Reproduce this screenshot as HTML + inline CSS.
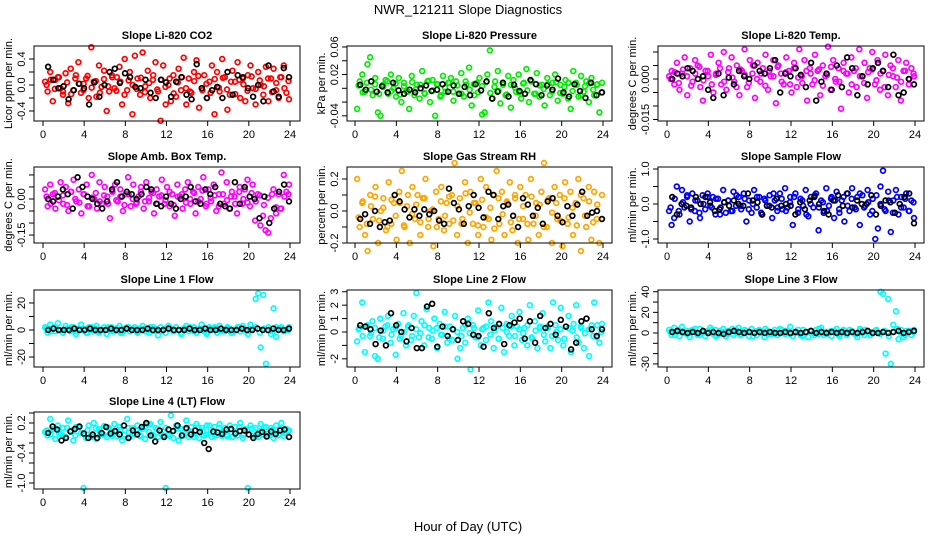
<!DOCTYPE html>
<html><head><meta charset="utf-8">
<style>
html,body{margin:0;padding:0;background:#fff;}
svg{display:block;font-family:"Liberation Sans",sans-serif;}
</style></head>
<body>
<svg id="chart" width="936" height="540" viewBox="0 0 936 540" xmlns="http://www.w3.org/2000/svg">
<rect x="0" y="0" width="936" height="540" fill="#fff"/>
<text x="468" y="14" text-anchor="middle" font-size="13">NWR_121211  Slope Diagnostics</text>
<text x="468" y="531" text-anchor="middle" font-size="13">Hour of Day (UTC)</text>
</svg>
<script>
// x tick values
const xTicks = [0,4,8,12,16,20,24];
// colored series (scaled units), dense-core colored series, and black series per panel
const c1 = [5,-10,20,-25,8,12,-5,-15,18,-28,25,-8,15,35,-12,2,10,-20,58,5,-18,30,-3,22,-40,-10,15,-5,12,28,-30,40,-8,20,-45,45,10,-15,50,-2,22,-20,8,35,-10,-55,30,-30,0,-25,15,-18,25,-8,42,-30,10,-12,20,38,-35,-5,15,-20,5,30,-45,20,-10,40,12,-38,-15,22,5,35,-20,10,-25,15,30,-5,-30,20,0,-15,28,-25,10,25,-8,-20,12,30,-12,-22];
const k1 = [0,8,-6,12,-10,4,-14,10,2,-8,14,-4,6,-12,9,-2,12,-9,5,-15,7,0,-6,11,-11,3,15,-7,8,-3,10,-13,4,12,-5,-10,6,14,-8,2,-12,9,-4,11,-7,5,-14,8,1,-9,13,-6,7,-2,10,-11,3,12,-5,6];
const b1 = [28,8,-5,-2,-22,-8,2,-5,-30,4,-18,0,20,25,3,18,12,-3,-5,8,-12,-20,8,4,-18,5,12,-15,-22,32,-5,-20,-8,-3,-20,20,-15,15,12,-5,-18,0,-25,30,-10,-18,26,12];
const c2 = [-30,10,20,-5,35,45,-10,15,-35,-40,5,12,-8,20,0,-12,15,-20,8,-5,-30,18,-10,5,-15,25,-8,10,-20,12,-40,6,-12,18,-5,8,15,-18,10,-8,22,-12,5,30,-25,-10,8,15,-38,-35,20,55,-15,10,25,-22,5,-10,18,-28,12,-5,20,-15,8,28,-20,10,-8,22,-12,5,-25,15,-10,8,20,-18,5,-8,12,-15,-30,25,8,-12,18,-5,10,-20,15,-10,5,-35,8];
const k2 = [4,-6,8,-2,6,-8,2,10,-4,7,-9,3,-5,9,-1,5,-7,11,-3,6,-10,1,8,-5,4,-8,10,-2,6,-6,3,9,-7,2,-4,8,-9,5,1,-6,7,-3,10,-8,4,-1,6,-5,9,-7,2,8,-4,5,-10,3,7,-2,6,-6];
const b2 = [5,-2,10,-5,3,-6,8,-3,-8,-2,-6,0,4,-4,-2,6,-5,4,-8,2,-10,6,-3,10,-15,-5,8,-12,5,-4,-8,12,6,-10,4,-2,14,-6,-12,6,-4,-14,8,-10,-6];
const c3 = [10,30,-20,60,-40,20,80,-60,40,-10,70,50,-30,-80,30,10,90,-50,20,60,-20,100,-40,40,80,-10,50,-60,30,110,-30,70,20,-70,60,-10,40,90,-40,10,70,-90,50,20,-20,80,30,-50,60,-30,110,10,70,-80,40,-20,90,30,-60,50,10,120,-40,70,-10,40,-110,60,20,-50,80,30,-30,110,10,60,-70,40,100,-20,70,-40,30,90,-60,50,10,-30,70,-80,30,60,-20,40,10];
const k3 = [0,25,-15,35,10,-25,20,45,-5,30,-20,15,40,-10,25,5,-30,35,15,-15,50,0,20,-25,30,10,45,-10,25,-20,40,5,-15,30,20,-5,35,-25,15,45,0,-10,30,20,-20,40,10,-15,25,35,-5,20,-30,15,40,5,-10,30,0,20];
const b3 = [0,20,10,40,30,0,10,-40,-70,20,-60,5,-20,30,10,0,50,30,20,40,70,-50,20,10,40,15,-30,60,-80,-10,20,-40,50,-30,80,40,-60,10,-20,40,60,30,-30,90,-60,-50,0,-20];
const c4 = [40,-30,60,20,-40,10,70,-20,50,-50,30,80,-10,40,-60,20,60,-30,100,0,-40,70,-20,50,10,-80,30,60,-10,40,-50,20,90,-30,60,-20,10,50,-40,70,-10,30,-60,40,10,80,-20,50,-30,20,-70,60,10,-40,40,70,-20,30,-60,50,0,90,-30,40,-10,60,-50,20,110,-20,70,-40,30,10,-60,50,-20,40,80,-30,60,-90,20,-110,-70,-130,-140,-80,40,-60,20,-40,100,30,60];
const k4 = [10,-20,25,-5,15,-25,30,0,-15,20,-30,5,25,-10,15,-20,35,-5,10,-25,20,0,-15,30,-10,5,25,-20,15,-5,30,-25,10,20,-15,0,25,-10,35,-20,5,15,-30,20,-5,10,-20,30,0,-15,25,-10,15,-25,5,20,-35,-40,10,20];
const b4 = [0,-10,10,40,20,-40,90,50,10,0,-20,-40,-10,40,70,10,30,20,0,20,50,40,-20,-30,10,-20,-40,0,10,50,-10,-20,40,20,50,-20,-30,-40,70,-20,50,10,0,-80,10,-100,-40,30,60,-10];
const c5 = [20,-10,5,-15,-25,10,-5,15,-20,0,8,-12,18,-8,5,-18,12,25,-10,3,-20,15,-5,10,-15,8,20,-10,0,-22,12,-5,15,-12,5,-8,10,30,-15,8,-5,18,-20,12,-8,5,-15,20,-10,15,-5,-18,10,25,-8,12,-15,5,18,-12,8,-20,15,-5,10,-18,20,-8,5,-15,12,30,-10,8,-20,15,-5,10,-22,18,-8,12,-15,5,20,-25,8,-10,15,-18,12,-5,-20,10];
const k5 = [-4,6,-8,3,9,-6,2,-10,7,-3,5,-9,10,-2,4,-7,8,-5,1,-10,6,-3,9,-6,3,-8,11,-1,5,-9,7,-4,2,-11,8,-2,6,-7,10,-5,3,-8,9,-3,4,-10,7,-1,5,-6,8,-4,2,-9,10,-3,6,-7,4,-5];
const b5 = [-5,-2,-8,0,-10,-7,-6,10,6,1,-4,1,-3,1,-2,0,-6,-8,14,5,1,-8,3,10,2,-4,12,10,-5,3,4,-3,-10,8,4,-3,2,-8,6,8,-3,-7,3,-3,4,12,-3,-1,0,-5];
const c6 = [-20,-60,-40,50,-30,40,-10,20,-50,30,-20,10,-40,25,-15,30,-5,20,-30,15,-10,40,-25,10,-20,35,-5,20,-15,30,-50,10,-25,40,-10,20,-30,15,-5,25,-40,10,-20,30,-15,45,-10,20,-60,30,-25,15,-5,40,-35,20,-10,30,-75,10,-25,45,-5,20,-40,35,-15,10,-50,30,-20,45,-10,20,-60,25,-5,40,-30,15,-100,-70,50,95,-20,35,-80,10,40,-30,20,-10,30,-20,10,-40];
const k6 = [-10,15,-20,5,25,-15,10,-25,0,20,-10,15,-30,5,10,-20,25,-5,15,-15,0,20,-25,10,-5,30,-10,15,-20,5,20,-15,10,-30,0,25,-10,5,-20,15,10,-25,20,-5,15,-15,30,-10,5,-20,25,0,-15,10,-25,20,-10,15,-20,5];
const b6 = [20,-30,0,-5,-10,20,0,20,5,-20,-15,5,-5,10,0,-5,30,10,5,-30,-5,-10,15,-5,0,-5,-30,5,-15,10,20,0,-20,-30,10,25,-5,30,-10,10,0,0,25,-30,-5,10,5,-25,0,20,30,-55];
const c7 = [2,-2,4,1,-1,5,0,-2,3,1,-1,2,-3,1,4,0,-2,2,1,-1,3,-2,0,2,-3,1,2,-1,0,3,-2,1,2,-1,0,2,-2,1,3,-1,0,2,-1,1,-4,2,0,-2,3,1,-1,2,0,-3,1,3,-1,0,2,-2,1,4,-1,-3,2,0,1,-2,3,0,-1,2,1,-2,0,2,-1,3,0,-3,4,1,23,27,-13,26,-25,2,-3,16,-5,1,2,-1,0,2];
const k7 = [1,-1,2,0,-2,1,2,-1,0,1,-2,2,1,-1,0,2,-1,1,-2,0,2,1,-1,0,1,-2,2,0,-1,1,2,-1,0,-2,1,2,-1,0,1,-2,1,2,0,-1,1,-2,0,2,1,-1,0,2,-2,1,0,-1,2,1,-1,0];
const b7 = [0,1,0,0,0,1,0,0,1,0,0,0,1,0,0,1,0,0,0,1,0,0,0,1,0,0,0,1,0,0,1,0,0,1,0,0,0,1,0,0,1,0,0,1,0,0,1];
const c8 = [-7,3,22,-15,5,-3,8,-18,-20,10,-5,4,12,-8,2,-17,6,-3,14,-10,5,-6,12,29,-4,8,-10,17,3,-5,10,-12,6,-2,15,-8,4,-6,12,-20,-12,3,-8,10,-28,5,-4,16,-10,3,-6,22,8,-12,4,-5,18,-15,6,-3,12,-10,4,15,-6,3,-10,20,-5,8,-12,4,14,-7,3,-12,22,5,-6,18,-10,4,12,-15,6,20,-8,3,-12,10,-18,5,22,-4,-8,6];
const k8 = [2,-3,4,-1,3,-4,1,5,-2,3,-5,0,4,-3,2,-1,5,-4,1,3,-2,4,-5,2,0,-3,5,-1,3,-4,2,4,-2,1,-5,3,0,4,-3,2,-1,5,-4,1,3,-2,4,-3,0,2,-5,3,1,-4,4,-1,2,-3,5,0];
const b8 = [5,4,2,-9,1,-10,14,5,0,-7,3,-12,-12,19,21,-11,4,-3,2,-6,8,6,-2,-3,-11,14,3,6,-9,5,7,10,-5,8,-8,12,3,6,-2,9,4,-13,-8,8,10,2,-3,2];
const c9 = [3,-2,5,1,-3,6,0,2,-4,3,1,-2,4,0,-3,2,5,-1,3,-2,0,4,-3,2,1,-2,3,5,-1,0,2,-3,4,1,-2,3,0,-4,2,1,-1,3,-2,4,0,-1,2,6,-3,1,0,-2,3,1,-4,2,0,3,-1,5,-2,1,0,-3,2,4,-1,0,2,-2,3,1,-1,-4,2,0,3,1,-2,1,2,0,40,38,-20,33,-30,8,21,-6,3,-4,2,1,-2,3];
const k9 = [1,-2,3,0,-1,2,4,-2,1,0,3,-3,2,1,-1,4,0,-2,3,1,-3,2,0,4,-1,1,-2,3,2,-1,0,3,-3,1,2,-2,4,0,-1,2,1,-3,3,0,2,-1,4,-2,1,0,3,-1,2,-3,1,4,0,-2,2,1];
const c10 = [2,-5,28,8,-12,15,-3,10,-8,25,5,-15,12,12,0,-110,-10,15,-5,20,-12,8,-3,14,-8,10,-2,18,-6,12,-15,5,28,-8,10,-3,15,-5,8,-12,18,18,-4,10,-8,22,-5,-110,-3,35,-10,15,-15,8,-5,25,-8,12,-3,18,-10,10,-5,15,15,-8,12,-4,18,-6,10,-3,15,-8,12,-5,20,-10,8,-110,15,-5,10,-8,18,-3,12,-6,10,-10,15,-4,20,-6,8,5];
const k10 = [5,-3,8,0,-6,10,3,-5,12,-2,6,-8,9,1,-4,11,-6,4,7,-3,10,-1,5,-7,12,2,-5,8,-2,10,-6,4,9,-4,7,0,-8,11,3,-3,6,-5,10,1,-6,8,-2,12,-4,5,9,-7,3,10,-1,6,-5,8,0,4];
const b9 = [1,2,1,0,1,0,2,0,1,0,-1,1,2,1,0,1,0,1,0,1,0,0,1,0,1,0,1,2,0,1,0,1,0,1,0,1,0,1,2,0,0,1,0,1,2,0,1,2];
const b10 = [0,13,7,-15,-10,3,8,13,-1,-10,-3,-10,0,12,-1,4,-3,15,-10,5,-3,12,20,-5,-17,5,-8,7,4,15,-5,10,-3,5,2,-20,-32,3,1,-2,7,8,-1,4,5,-3,-10,-2,2,-7,3,-2,5,7,-8];

const panels = [
 {id:"co2",title:"Slope Li-820 CO2",ylab:"Licor ppm per min.",col:0,row:0,top:0.6,bot:-0.554,ticks:[0.4,0.2,0,-0.2,-0.4],labs:{"0.4":"0.4","0":"0.0","-0.4":"-0.4"},sc:0.01,color:"#ff0000",c:c1,k:k1,b:b1},
 {id:"pressure",title:"Slope Li-820 Pressure",ylab:"kPa per min.",col:1,row:0,top:0.0614,bot:-0.0475,ticks:[0.06,0.04,0.02,0,-0.02,-0.04],labs:{"0.06":"0.06","0.02":"0.02","-0.04":"-0.04"},sc:0.001,color:"#00ee00",c:c2,k:k2,b:b2},
 {id:"li820-temp",title:"Slope Li-820 Temp.",ylab:"degrees C per min.",col:2,row:0,top:0.01222,bot:-0.01556,ticks:[0.01,0.005,0,-0.005,-0.01,-0.015],labs:{"0":"0.000","-0.015":"-0.015"},sc:0.0001,color:"#ff00ff",c:c3,k:k3,b:b3},
 {id:"amb-box-temp",title:"Slope Amb. Box Temp.",ylab:"degrees C per min.",col:0,row:1,top:0.133,bot:-0.183,ticks:[0.1,0.05,0,-0.05,-0.1,-0.15],labs:{"0":"0.00","-0.15":"-0.15"},sc:0.001,color:"#ff00ff",c:c4,k:k4,b:b4},
 {id:"gas-stream-rh",title:"Slope Gas Stream RH",ylab:"percent per min.",col:1,row:1,top:0.275,bot:-0.2,ticks:[0.2,0.1,0,-0.1,-0.2],labs:{"0.2":"0.2","0":"0.0","-0.2":"-0.2"},sc:0.01,color:"#ffa500",c:c5,k:k5,b:b5},
 {id:"sample-flow",title:"Slope Sample Flow",ylab:"ml/min per min.",col:2,row:1,top:1.057,bot:-1.114,ticks:[1,0.5,0,-0.5,-1],labs:{"1":"1.0","0":"0.0","-1":"-1.0"},sc:0.01,color:"#0000ff",c:c6,k:k6,b:b6},
 {id:"line1-flow",title:"Slope Line 1 Flow",ylab:"ml/min per min.",col:0,row:2,top:29.6,bot:-27.4,ticks:[20,10,0,-10,-20],labs:{"20":"20","0":"0","-20":"-20"},sc:1,color:"#00ffff",c:c7,k:k7,b:b7},
 {id:"line2-flow",title:"Slope Line 2 Flow",ylab:"ml/min per min.",col:1,row:2,top:3.13,bot:-2.61,ticks:[3,2,1,0,-1,-2],labs:{"3":"3","2":"2","1":"1","0":"0","-2":"-2"},sc:0.1,color:"#00ffff",c:c8,k:k8,b:b8},
 {id:"line3-flow",title:"Slope Line 3 Flow",ylab:"ml/min per min.",col:2,row:2,top:41.7,bot:-33,ticks:[40,30,20,10,0,-10,-20,-30],labs:{"40":"40","20":"20","0":"0","-30":"-30"},sc:1,color:"#00ffff",c:c9,k:k9,b:b9},
 {id:"line4-flow",title:"Slope Line 4 (LT) Flow",ylab:"ml/min per min.",col:0,row:3,top:0.42,bot:-1.12,ticks:[0.4,0.2,0,-0.2,-0.4,-0.6,-0.8,-1.0],labs:{"0.2":"0.2","-0.4":"-0.4","-1":"-1.0"},sc:0.01,color:"#00ffff",c:c10,k:k10,b:b10}
];
const colBox = [[34,300,43,290],[347,612,355,603],[658,924,667,915]];
const rowBox = [[46,121],[167,243],[290,367],[412,489]];
const NS = "http://www.w3.org/2000/svg";
const svg = document.getElementById("chart");
function mk(tag, attrs, parent){
  const e = document.createElementNS(NS, tag);
  for (const k in attrs) e.setAttribute(k, attrs[k]);
  (parent||svg).appendChild(e);
  return e;
}
panels.forEach(p => {
  const [bx0,bx1,x0,x24] = colBox[p.col];
  const [by0,by1] = rowBox[p.row];
  const xs = h => x0 + (x24 - x0) * h / 24;
  const ys = v => by0 + (by1 - by0) * (p.top - v) / (p.top - p.bot);
  const g = mk("g", {});
  
  
  const t = mk("text", {x:(bx0+bx1)/2, y:by0-7, "text-anchor":"middle","font-size":"11","font-weight":"bold"}, g);
  t.textContent = p.title;
  
  
  const gc = mk("g", {fill:"none", stroke:p.color, "stroke-width":"1.7"}, g);
  
  
  const n = p.c.length;
  p.c.forEach((v,i) => {
    const h = 0.2 + i * 23.7 / (n - 1);
    const c = mk("circle", {cx:xs(h).toFixed(1), cy:ys(v*p.sc).toFixed(1), r:"2.4"}, gc);
    
    
  });
  const nk = p.k.length;
  p.k.forEach((v,i) => {
    const h = 0.35 + i * 23.5 / (nk - 1);
    const c = mk("circle", {cx:xs(h).toFixed(1), cy:ys(v*p.sc).toFixed(1), r:"2.4"}, gc);
    
    
  });
  const gb = mk("g", {fill:"none", stroke:"#000", "stroke-width":"1.7"}, g);
  
  
  const m = p.b.length;
  p.b.forEach((v,i) => {
    const h = 0.5 + i * 23.4 / (m - 1);
    const c = mk("circle", {cx:xs(h).toFixed(1), cy:ys(v*p.sc).toFixed(1), r:"2.4"}, gb);
    
    
  });
  const box = mk("rect", {x:bx0, y:by0, width:bx1-bx0, height:by1-by0, fill:"none", stroke:"#000", "stroke-width":"1"}, g);
  
  
  xTicks.forEach(h => {
    mk("line", {x1:xs(h), x2:xs(h), y1:by1, y2:by1+5, stroke:"#000"}, g);
    const tl = mk("text", {x:xs(h), y:by1+17, "text-anchor":"middle","font-size":"11"}, g);
    tl.textContent = h;
    
    
  });
  p.ticks.forEach(v => {
    const y = ys(v);
    mk("line", {x1:bx0-5, x2:bx0, y1:y, y2:y, stroke:"#000"}, g);
    const key = String(v);
    if (p.labs[key] !== undefined) {
      const tl = mk("text", {x:bx0-9, y:y, "text-anchor":"middle","font-size":"11", transform:`rotate(-90 ${bx0-9} ${y})`}, g);
      tl.textContent = p.labs[key];
      
      
    }
  });
  const yl = mk("text", {x:bx0-22, y:(by0+by1)/2, "text-anchor":"middle","font-size":"11", transform:`rotate(-90 ${bx0-22} ${(by0+by1)/2})`}, g);
  yl.textContent = p.ylab;
  
  
});
</script>
</body></html>
